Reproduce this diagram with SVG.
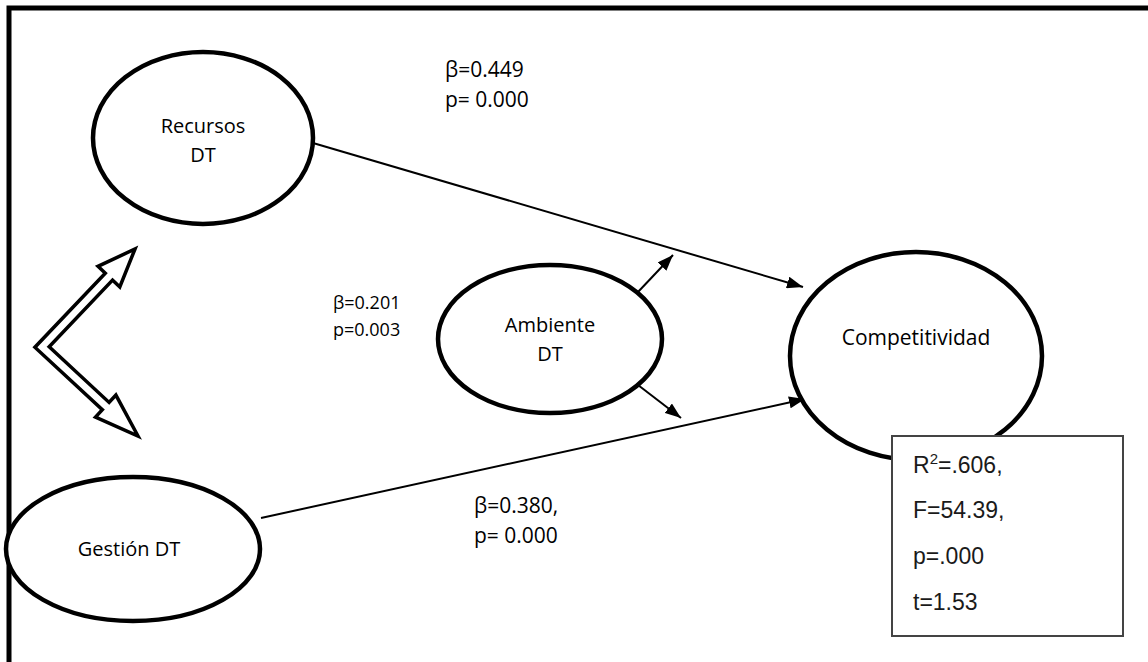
<svg xmlns="http://www.w3.org/2000/svg" width="1148" height="662" viewBox="0 0 1148 662">
  <style>
    .node { fill: #fff; stroke: #000; stroke-width: 4.5; }
    .lbl { font-family: "Open Sans", "Noto Sans", sans-serif; font-size: 20px; fill: #000; text-anchor: middle; }
    .coef { font-family: "Open Sans", "Noto Sans", sans-serif; fill: #000; }
    .conn { stroke: #000; stroke-width: 2; fill: none; }
    .stats { font-family: "Liberation Sans", Arial, sans-serif; font-size: 23px; fill: #1a1a1a; }
  </style>
  <defs>
    <marker id="head" markerUnits="userSpaceOnUse" markerWidth="16" markerHeight="12" refX="16" refY="6" orient="auto">
      <path d="M0,0 L16,6 L0,12 z" fill="#000"/>
    </marker>
  </defs>

  <rect width="1148" height="662" fill="#fff"/>
  <!-- frame -->
  <rect x="9" y="8" width="1150" height="670" fill="none" stroke="#000" stroke-width="5"/>

  <!-- connectors -->
  <g id="connectors">
    <line class="conn" x1="313" y1="143" x2="803" y2="287" marker-end="url(#head)"/>
    <line class="conn" x1="261" y1="518" x2="805" y2="399" marker-end="url(#head)"/>
    <line class="conn" x1="638" y1="292" x2="673" y2="255" marker-end="url(#head)"/>
    <line class="conn" x1="638" y1="385" x2="681" y2="418" marker-end="url(#head)"/>
  </g>

  <!-- bent double arrow between Recursos DT and Gestión DT -->
  <g id="correlation">
    <polyline points="108.9,276.6 42,347 105.7,406.1" fill="none" stroke="#000" stroke-width="13.5" stroke-linejoin="miter" stroke-miterlimit="10"/>
    <polygon points="135,249 119.8,286.9 98,266.3" fill="#fff" stroke="#000" stroke-width="3.5" stroke-linejoin="miter"/>
    <polygon points="138,436 115.9,395.1 95.5,417.1" fill="#fff" stroke="#000" stroke-width="3.5" stroke-linejoin="miter"/>
    <polyline points="111,274.4 42,347 108,408.2" fill="none" stroke="#fff" stroke-width="6.5" stroke-linejoin="miter" stroke-miterlimit="10"/>
  </g>

  <g id="recursos">
    <ellipse class="node" cx="203" cy="138" rx="110" ry="86"/>
    <text class="lbl" x="203" y="133">Recursos</text>
    <text class="lbl" x="203" y="162">DT</text>
  </g>

  <g id="ambiente">
    <ellipse class="node" cx="550" cy="339" rx="112" ry="74"/>
    <text class="lbl" x="550" y="332">Ambiente</text>
    <text class="lbl" x="550" y="361">DT</text>
  </g>

  <g id="competitividad">
    <ellipse class="node" cx="916" cy="356" rx="126" ry="104"/>
    <text class="lbl" x="916" y="345" style="font-size:21px">Competitividad</text>
  </g>

  <g id="gestion">
    <ellipse class="node" cx="133" cy="549" rx="127" ry="72"/>
    <text class="lbl" x="129" y="556">Gestión DT</text>
  </g>

  <!-- model fit statistics -->
  <g id="stats">
    <rect x="892" y="436" width="231" height="200" fill="#fff" stroke="#444" stroke-width="2"/>
    <text class="stats" x="913" y="473">R<tspan font-size="15" dy="-9">2</tspan><tspan dy="9">=.606,</tspan></text>
    <text class="stats" x="913" y="518">F=54.39,</text>
    <text class="stats" x="913" y="564">p=.000</text>
    <text class="stats" x="913" y="610">t=1.53</text>
  </g>

  <!-- path coefficients -->
  <g id="coefficients">
    <text class="coef" x="445" y="77" font-size="21">β=0.449</text>
    <text class="coef" x="445" y="107" font-size="21">p= 0.000</text>
    <text class="coef" x="333" y="309" font-size="18">β=0.201</text>
    <text class="coef" x="333" y="336" font-size="18">p=0.003</text>
    <text class="coef" x="474" y="513" font-size="21">β=0.380,</text>
    <text class="coef" x="474" y="543" font-size="21">p= 0.000</text>
  </g>
</svg>
